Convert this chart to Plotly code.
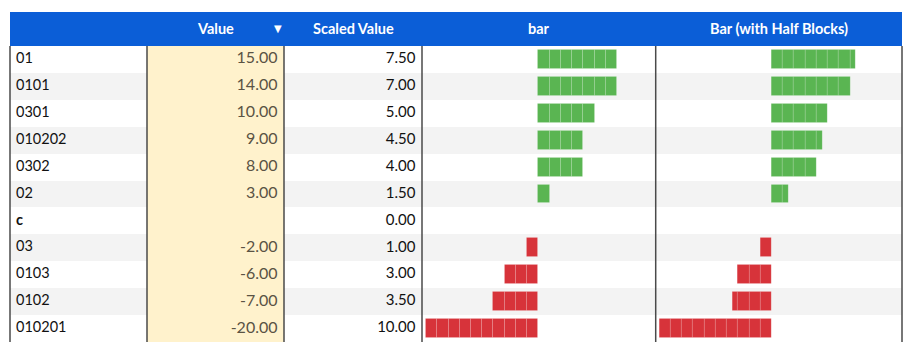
import math
import plotly.graph_objects as go

# ---------------- data ----------------
labels = ["01", "0101", "0301", "010202", "0302", "02", "c", "03", "0103", "0102", "010201"]
values = [15, 14, 10, 9, 8, 3, None, -2, -6, -7, -20]
scaled = [7.5, 7.0, 5.0, 4.5, 4.0, 1.5, 0.0, 1.0, 3.0, 3.5, 10.0]
headers = ["", "Value", "Scaled Value", "bar", "Bar (with Half Blocks)"]
bold_labels = ["c"]

# ---------------- layout constants ----------------
# the page body adds an 8px offset, so figure coordinates are shifted by -8
OFF = 8
W, H = 915, 358
HEADER_H = 34
ML = 10 - OFF
MT = 12 - OFF + HEADER_H
MB = H - (342 - OFF)
MR = W - (902 - OFF)
PW = W - ML - MR
PH = H - MT - MB
col_edges = [10, 147, 284, 422, 655.7, 902]
dom = [(e - 10) / (902 - 10) for e in col_edges]
col_w = [col_edges[i + 1] - col_edges[i] for i in range(5)]
PAD_L, PAD_R = 6, 6.5

BLUE = "#0b5ed7"
CREAM = "#fff2cc"
STRIPE = "#f3f3f3"
GREEN = "#5ab552"
RED = "#d7333a"
FONT = "Lato"

n = len(labels)
signed = []
for v, s in zip(values, scaled):
    if v is None or v >= 0:
        signed.append(s)
    else:
        signed.append(-s)

fig = go.Figure()

# row stripes (full width axis x)
fig.add_trace(go.Bar(
    orientation="h", y=labels, x=[1] * n, base=[0] * n, width=1,
    marker=dict(color=[("white" if i % 2 == 0 else STRIPE) for i in range(n)], line=dict(width=0)),
    xaxis="x", yaxis="y", hoverinfo="skip", showlegend=False))

# cream value column
fig.add_trace(go.Bar(
    orientation="h", y=labels, x=[1] * n, base=[0] * n, width=1,
    marker=dict(color=CREAM, line=dict(width=0)),
    xaxis="x3", yaxis="y", hoverinfo="skip", showlegend=False))


def block_trace(half, axis):
    ys, bases, ws, cols = [], [], [], []
    for lab, s in zip(labels, signed):
        if half:
            mag = abs(s)
            full = int(math.floor(mag))
            rem = mag - full
            sg = 1 if s >= 0 else -1
            for k in range(full):
                ys.append(lab)
                bases.append(k if sg > 0 else -(k + 1))
                ws.append(1)
                cols.append(GREEN if sg > 0 else RED)
            if rem >= 0.5:
                ys.append(lab)
                bases.append(full if sg > 0 else -(full + 0.5))
                ws.append(0.5)
                cols.append(GREEN if sg > 0 else RED)
        else:
            nb = int(math.floor(s))
            if nb > 0:
                for k in range(nb):
                    ys.append(lab); bases.append(k); ws.append(1); cols.append(GREEN)
            elif nb < 0:
                for k in range(-nb):
                    ys.append(lab); bases.append(-(k + 1)); ws.append(1); cols.append(RED)
    return go.Bar(
        orientation="h", y=ys, x=ws, base=bases, width=0.7,
        marker=dict(color=cols, line=dict(color="rgba(255,255,255,0.12)", width=1)),
        xaxis=axis, yaxis="y", hoverinfo="skip", showlegend=False)


fig.add_trace(block_trace(False, "x5"))
fig.add_trace(block_trace(True, "x6"))

# text columns
fig.add_trace(go.Scatter(
    mode="text", x=[PAD_L / col_w[0]] * n, y=labels,
    text=[("<b>%s</b>" % l if l in bold_labels else l) for l in labels],
    textposition="middle right",
    textfont=dict(family=FONT, size=14.5, color="#111111"),
    xaxis="x2", yaxis="y", hoverinfo="skip", showlegend=False, cliponaxis=False))

fig.add_trace(go.Scatter(
    mode="text", x=[1 - PAD_R / col_w[1]] * n, y=labels,
    text=[("%.2f" % v if v is not None else "") for v in values],
    textposition="middle left",
    textfont=dict(family=FONT, size=16, color="#5a5344"),
    xaxis="x3", yaxis="y", hoverinfo="skip", showlegend=False, cliponaxis=False))

fig.add_trace(go.Scatter(
    mode="text", x=[1 - PAD_R / col_w[2]] * n, y=labels,
    text=["%.2f" % s for s in scaled],
    textposition="middle left",
    textfont=dict(family=FONT, size=15, color="#111111"),
    xaxis="x4", yaxis="y", hoverinfo="skip", showlegend=False, cliponaxis=False))

hidden = dict(visible=False, showgrid=False, zeroline=False, fixedrange=True)

fig.update_layout(
    width=W, height=H,
    margin=dict(l=ML, r=MR, t=MT, b=MB, pad=0),
    paper_bgcolor="white", plot_bgcolor="rgba(0,0,0,0)",
    barmode="overlay", bargap=0,
    showlegend=False,
    xaxis=dict(domain=[0, 1], range=[0, 1], anchor="y", **hidden),
    xaxis2=dict(domain=[dom[0], dom[1]], range=[0, 1], anchor="y", **hidden),
    xaxis3=dict(domain=[dom[1], dom[2]], range=[0, 1], anchor="y", **hidden),
    xaxis4=dict(domain=[dom[2], dom[3]], range=[0, 1], anchor="y", **hidden),
    xaxis5=dict(domain=[dom[3], dom[4]], range=[-10.36, 10.45], anchor="y", **hidden),
    xaxis6=dict(domain=[dom[4], dom[5]], range=[-10.33, 11.6], anchor="y", **hidden),
    yaxis=dict(type="category", categoryarray=labels, categoryorder="array",
               range=[n - 0.5, -0.5], domain=[0, 1], **hidden),
)

# header band
hy1 = 1 + HEADER_H / PH
fig.add_shape(type="rect", xref="paper", yref="paper", x0=0, x1=1, y0=1, y1=hy1,
              fillcolor=BLUE, line=dict(width=0), layer="above")
axes_names = ["x2", "x3", "x4", "x5", "x6"]
for h, ax in zip(headers, axes_names):
    if h:
        fig.add_annotation(text="<b>%s</b>" % h, xref=ax + " domain", x=0.5, yref="paper",
                           y=1 + HEADER_H / 2 / PH, xanchor="center", yanchor="middle",
                           showarrow=False, font=dict(family=FONT, size=14.5, color="white"))
fig.add_annotation(text="▼", xref="x3 domain", x=0.958, yref="paper", y=1 + HEADER_H / 2 / PH,
                   xanchor="center", yanchor="middle", showarrow=False,
                   font=dict(family="DejaVu Sans", size=10, color="white"))

# vertical column borders
for i, ax in enumerate(axes_names):
    fig.add_shape(type="line", xref=ax + " domain", yref="paper", x0=0, x1=0, y0=0, y1=1,
                  line=dict(color="#4a4a4a", width=1.5), layer="above")
fig.add_shape(type="line", xref="x6 domain", yref="paper", x0=1, x1=1, y0=0, y1=1,
              line=dict(color="#4a4a4a", width=1.5), layer="above")

fig.write_html("out.html")
